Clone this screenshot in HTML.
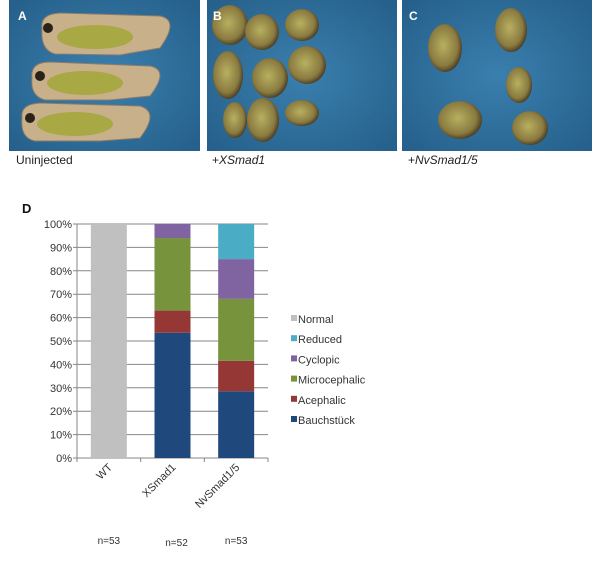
<!DOCTYPE html>
<html><head><meta charset="utf-8"><style>
body{margin:0;background:#fff;width:600px;height:557px;overflow:hidden;font-family:"Liberation Sans",sans-serif}
</style></head><body>
<svg id="fig" width="600" height="557" xmlns="http://www.w3.org/2000/svg">
<defs>
<radialGradient id="bg" cx="50%" cy="50%" r="70%"><stop offset="0" stop-color="#3a7fae"/><stop offset="1" stop-color="#255f8a"/></radialGradient>
<radialGradient id="emb" cx="45%" cy="45%" r="60%"><stop offset="0" stop-color="#b8b060"/><stop offset="0.7" stop-color="#8a7a40"/><stop offset="1" stop-color="#3a2e1e"/></radialGradient>
</defs>
<g>
<rect x="9" y="0" width="191" height="151" fill="url(#bg)"/>
<g fill="#c8b08a" stroke="#8a7a6a" stroke-width="1">
<path d="M42 28 Q40 14 60 13 L160 16 Q180 20 160 48 L120 55 L55 54 Q40 50 42 28Z"/>
<path d="M32 78 Q30 62 50 62 L150 66 Q170 70 150 96 L110 100 L45 100 Q30 96 32 78Z"/>
<path d="M22 118 Q20 104 40 103 L140 106 Q160 112 140 138 L100 141 L35 141 Q20 138 22 118Z"/>
</g>
<g fill="#a8a845"><ellipse cx="95" cy="37" rx="38" ry="12"/><ellipse cx="85" cy="83" rx="38" ry="12"/><ellipse cx="75" cy="124" rx="38" ry="12"/></g>
<g fill="#2a2218"><circle cx="48" cy="28" r="5"/><circle cx="40" cy="76" r="5"/><circle cx="30" cy="118" r="5"/></g>
<text x="18" y="20" fill="#fff" font-weight="bold" font-size="12">A</text>
</g>
<g>
<rect x="207" y="0" width="190" height="151" fill="url(#bg)"/>
<g fill="url(#emb)">
<ellipse cx="230" cy="25" rx="18" ry="20"/><ellipse cx="262" cy="32" rx="17" ry="18"/><ellipse cx="302" cy="25" rx="17" ry="16"/>
<ellipse cx="228" cy="75" rx="15" ry="24"/><ellipse cx="270" cy="78" rx="18" ry="20"/><ellipse cx="307" cy="65" rx="19" ry="19"/>
<ellipse cx="235" cy="120" rx="12" ry="18"/><ellipse cx="263" cy="120" rx="16" ry="22"/><ellipse cx="302" cy="113" rx="17" ry="13"/>
</g>
<text x="213" y="20" fill="#fff" font-weight="bold" font-size="12">B</text>
</g>
<g>
<rect x="402" y="0" width="190" height="151" fill="url(#bg)"/>
<g fill="url(#emb)">
<ellipse cx="445" cy="48" rx="17" ry="24"/><ellipse cx="511" cy="30" rx="16" ry="22"/>
<ellipse cx="519" cy="85" rx="13" ry="18"/><ellipse cx="460" cy="120" rx="22" ry="19"/><ellipse cx="530" cy="128" rx="18" ry="17"/>
</g>
<text x="409" y="20" fill="#fff" font-weight="bold" font-size="12">C</text>
</g>
<text x="16" y="164" font-size="12" fill="#222">Uninjected</text>
<text x="212" y="164" font-size="12" fill="#222">+<tspan font-style="italic">XSmad1</tspan></text>
<text x="408" y="164" font-size="12" fill="#222">+<tspan font-style="italic">NvSmad1/5</tspan></text>
<text x="22" y="213" font-size="13" font-weight="bold" fill="#111">D</text>
<g id="chart"></g>
</svg>
<script>
const categories = ["WT", "XSmad1", "NvSmad1/5"];
const counts = ["n=53", "n=52", "n=53"];
const seriesNames = ["Bauchstück", "Acephalic", "Microcephalic", "Cyclopic", "Reduced", "Normal"];
const bauchstuck = [0, 53.5, 28.5];
const acephalic = [0, 9.5, 13];
const microcephalic = [0, 31, 26.5];
const cyclopic = [0, 6, 17];
const reduced = [0, 0, 15];
const normal = [100, 0, 0];
const yTicks = [0, 10, 20, 30, 40, 50, 60, 70, 80, 90, 100];
const colors = ["#1f497d", "#953735", "#77933c", "#8064a2", "#4bacc6", "#c0c0c0"];
const series = [bauchstuck, acephalic, microcephalic, cyclopic, reduced, normal];
const NS = "http://www.w3.org/2000/svg";
const g = document.getElementById("chart");
const x0 = 77, x1 = 268, yTop = 224, yBot = 458;
const y = v => yBot - (yBot - yTop) * v / 100;
const band = (x1 - x0) / categories.length;
const xc = i => x0 + band * (i + 0.5);
const bw = 36;
function mk(tag, attrs) { const e = document.createElementNS(NS, tag); for (const k in attrs) e.setAttribute(k, attrs[k]); g.appendChild(e); return e; }
yTicks.forEach(t => {
  const l = mk("line", {x1: x0 - 4, x2: x1, y1: y(t), y2: y(t), stroke: "#868686", "stroke-width": 1});
  
  
  const tx = mk("text", {x: x0 - 5, y: y(t) + 4, "text-anchor": "end", "font-size": 11, fill: "#333"});
  tx.textContent = t + "%";
  
  
});
const ax = mk("line", {x1: x0, x2: x0, y1: yTop, y2: yBot, stroke: "#868686"});


for (let i = 0; i <= categories.length; i++) {
  const tk = mk("line", {x1: x0 + band * i, x2: x0 + band * i, y1: yBot, y2: yBot + 4, stroke: "#868686"});
  
  
}
categories.forEach((c, i) => {
  let acc = 0;
  series.forEach((s, k) => {
    const v = s[i];
    if (v > 0) {
      const r = mk("rect", {x: xc(i) - bw / 2, y: y(acc + v), width: bw, height: y(acc) - y(acc + v), fill: colors[k]});
      
      
    }
    acc += v;
  });
  const lx = xc(i) + 4, ly = yBot + 10;
  const t = mk("text", {x: lx, y: ly, "text-anchor": "end", "font-size": 11, fill: "#333", transform: `rotate(-45 ${lx} ${ly})`});
  t.textContent = c;
  
  
  const n = mk("text", {x: xc(i) + (i === 1 ? 4 : 0), y: 544 + (i === 1 ? 2 : 0), "text-anchor": "middle", "font-size": 10, fill: "#333"});
  n.textContent = counts[i];
  
  
});
const legendOrder = [5, 4, 3, 2, 1, 0];
legendOrder.forEach((k, j) => {
  const ly = 319 + j * 20.2;
  const sq = mk("rect", {x: 291, y: ly - 4, width: 6, height: 6, fill: colors[k]});
  
  
  const t = mk("text", {x: 298, y: ly + 4, "font-size": 11, fill: "#333"});
  t.textContent = seriesNames[k];
  
  
});
</script>
</body></html>
